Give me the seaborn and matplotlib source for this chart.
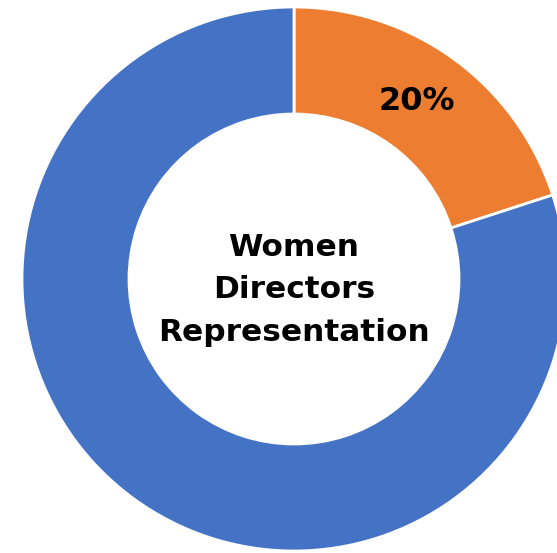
import matplotlib
matplotlib.use("Agg")
import matplotlib.pyplot as plt
import seaborn as sns

# Share of board seats
categories = ["Women", "Men"]
shares = [20, 80]
center_label = "Women\nDirectors\nRepresentation"

sns.set_theme(style="white")
plt.rcParams["font.family"] = ["DejaVu Sans"]
palette = ["#ED7D31", "#4472C4"]

W, H = 557, 553
fig = plt.figure(figsize=(W / 100, H / 100), dpi=100)
ax = fig.add_axes([0, 0, 1, 1])

cx, cy, r = 294, H - 279, 272
ax.pie(shares, colors=palette, startangle=90, counterclock=False,
       center=(cx, cy), radius=r, frame=True,
       wedgeprops=dict(width=107, edgecolor="white", linewidth=2))
ax.set_xlim(0, W)
ax.set_ylim(0, H)
ax.set_aspect("equal")
ax.axis("off")

ax.text(417, H - 101, f"{shares[0]}%", ha="center", va="center",
        fontsize=23, fontweight="bold", color="black")
ax.text(cx, H - 290, center_label, ha="center", va="center",
        fontsize=22.5, fontweight="bold", color="black", linespacing=1.6)

fig.savefig("out.png", dpi=100)
